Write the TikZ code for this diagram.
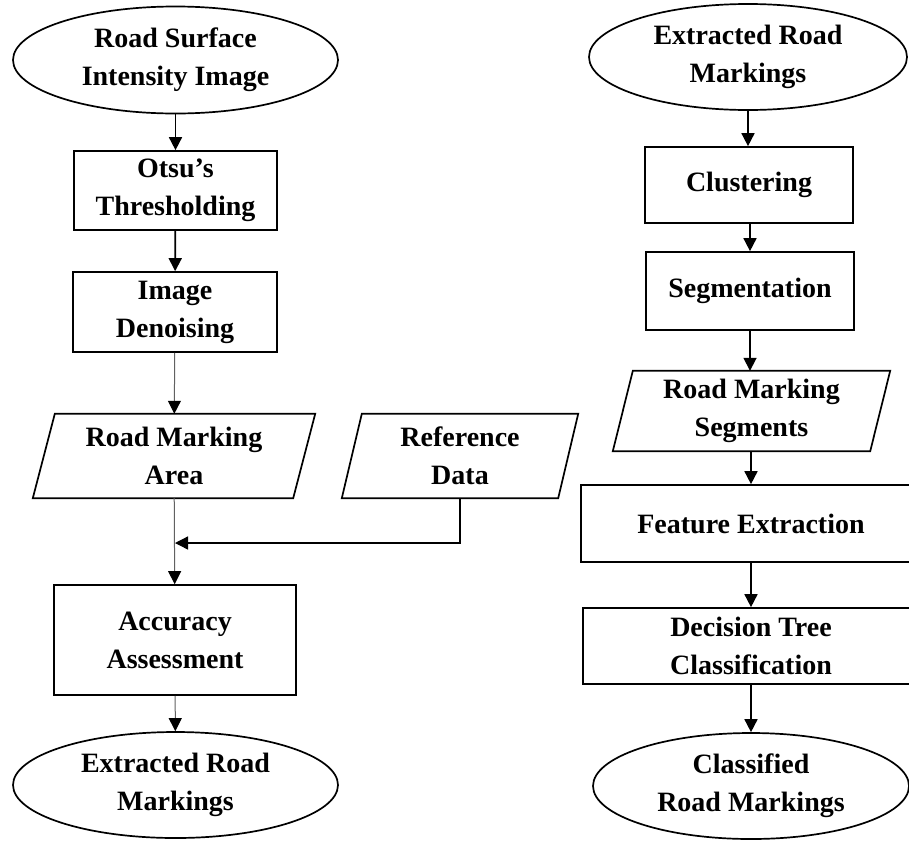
\documentclass[tikz,border=0pt]{standalone}
\usepackage{fontspec}
\setmainfont{Liberation Serif}
\usetikzlibrary{arrows.meta,shapes.geometric}

\tikzset{
  label font/.style={font=\fontsize{28}{38}\selectfont\bfseries, align=center},
  box line/.style={line width=1.7pt, draw=black},
  terminal/.style={ellipse, box line, label font, inner sep=0pt},
  process/.style={rectangle, box line, label font, inner sep=0pt},
  datanode/.style={rectangle, draw=none, label font, inner sep=0pt},
  flow/.style={line width=1.7pt, -{Triangle[width=13pt,length=13pt]}},
  thinflow/.style={line width=1pt, draw=black!62, -{Triangle[width=13pt,length=13pt,color=black]}},
}

% slanted outline around a data node
\newcommand{\dataoutline}[2]{%
  \draw[box line] ([xshift=#2]#1.north west) -- ([xshift=#2]#1.north east)
    -- ([xshift=-#2]#1.south east) -- ([xshift=-#2]#1.south west) -- cycle;}

\begin{document}
\begin{tikzpicture}[x=1pt,y=-1pt]
  \useasboundingbox (0,0) rectangle (909,841);
  \clip (0,0) rectangle (909,841);
  \fill[white] (0,0) rectangle (909,841);

  % ---- extraction branch ----
  \node[terminal, minimum width=325pt, minimum height=107pt] (rsi) at (175.5,60) {Road Surface\\Intensity Image};
  \node[process, minimum width=203pt, minimum height=79pt] (otsu) at (175.5,190.5) {Otsu’s\\Thresholding};
  \node[process, minimum width=204pt, minimum height=80pt] (denoise) at (175,312) {Image\\Denoising};
  \node[datanode, minimum width=260pt, minimum height=84pt] (area) at (174,456) {Road Marking\\Area};
  \dataoutline{area}{11pt}
  \node[datanode, minimum width=216pt, minimum height=84pt] (refdata) at (460,456) {Reference\\Data};
  \dataoutline{refdata}{10pt}
  \node[process, minimum width=242pt, minimum height=110pt] (accuracy) at (175,640) {Accuracy\\Assessment};
  \node[terminal, minimum width=325pt, minimum height=106pt] (extracted) at (175.5,785) {Extracted Road\\Markings};

  \coordinate (merge) at (175,543);

  \draw[flow] (rsi) -- (otsu);
  \draw[flow] (otsu) -- (denoise);
  \draw[thinflow] (denoise) -- (area);
  \draw[thinflow] (area) -- (accuracy);
  \draw[line width=1.3pt, -{Triangle[width=13pt,length=13pt]}] (refdata.south) |- (merge);
  \draw[thinflow] (accuracy) -- (extracted);

  % ---- classification branch ----
  \node[terminal, minimum width=318pt, minimum height=106pt] (erm) at (748,57) {Extracted Road\\Markings};
  \node[process, minimum width=208pt, minimum height=76pt] (cluster) at (749,185) {Clustering};
  \node[process, minimum width=208pt, minimum height=78pt] (segment) at (750,291) {Segmentation};
  \node[datanode, minimum width=257pt, minimum height=80pt] (segs) at (751.5,411) {Road Marking\\Segments};
  \dataoutline{segs}{10pt}
  \node[process, minimum width=340pt, minimum height=77pt] (feature) at (751,523.5) {Feature Extraction};
  \node[process, minimum width=336pt, minimum height=76pt] (dtree) at (751,646) {Decision Tree\\Classification};
  \node[terminal, minimum width=316pt, minimum height=106pt] (classified) at (751,786) {Classified\\Road Markings};

  \draw[flow] (erm) -- (erm |- cluster.north);
  \draw[flow] (cluster.south -| segment) -- (segment);
  \draw[flow] (segment) -- (segment |- segs.north);
  \draw[flow] (segs.south -| feature) -- (feature);
  \draw[flow] (feature) -- (dtree);
  \draw[flow] (dtree) -- (classified);
\end{tikzpicture}
\end{document}
